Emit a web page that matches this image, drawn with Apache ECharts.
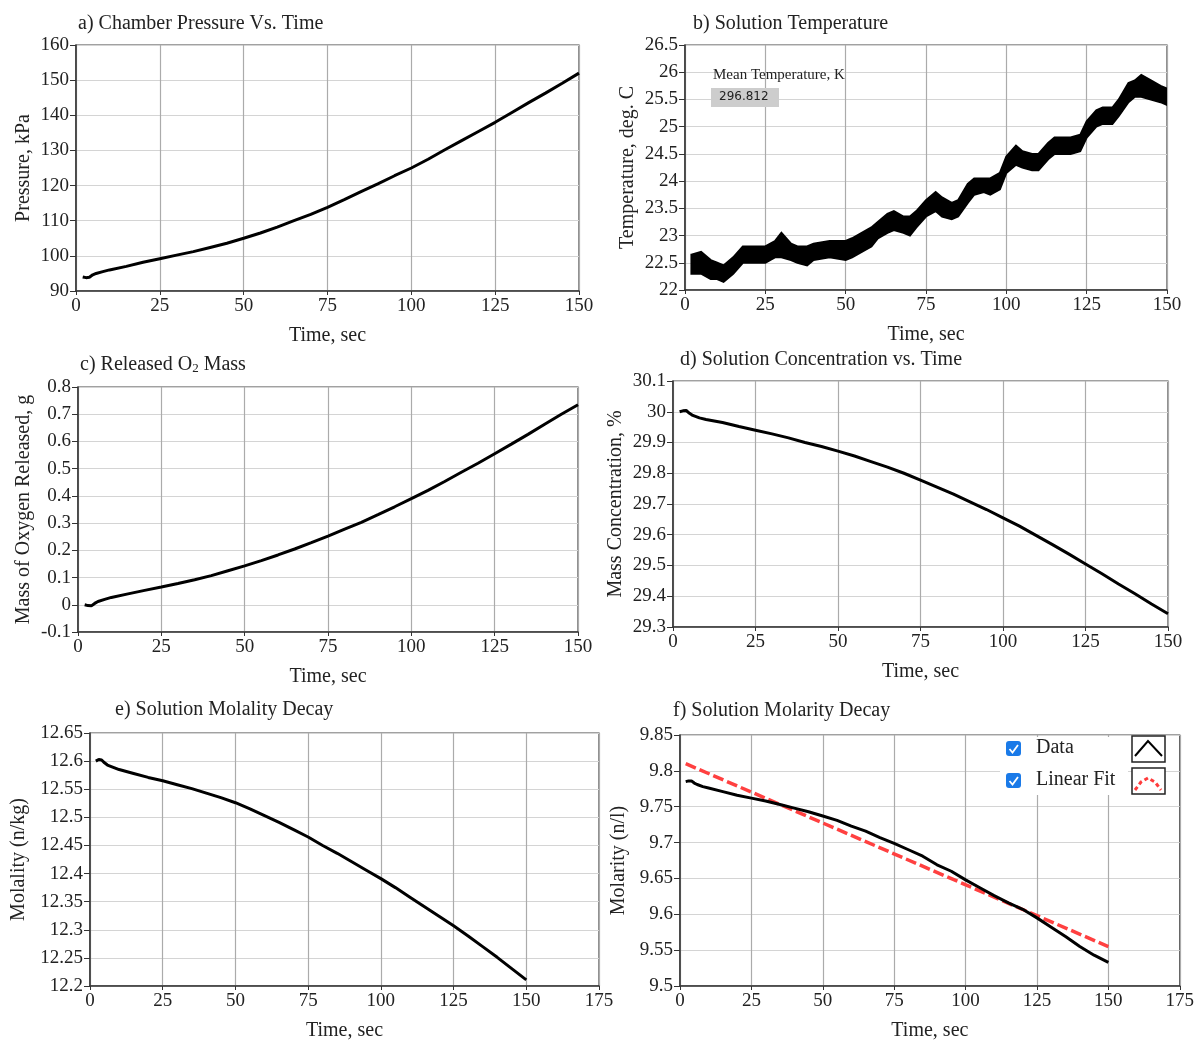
<!DOCTYPE html>
<html>
<head>
<meta charset="utf-8">
<script src="https://cdn.jsdelivr.net/npm/echarts@6/dist/echarts.min.js"></script>
<style>
  html, body { margin: 0; padding: 0; background: #fff; }
  #chart { width: 1197px; height: 1042px; }
</style>
</head>
<body>
<div id="chart"></div>
<script>
// shared time base (s) for the smooth curves
var timeSec = [2, 3, 4, 5, 6, 8, 10, 15, 20, 25, 30, 35, 40, 45, 50, 55, 60, 65, 70, 75,
  80, 85, 90, 95, 100, 105, 110, 115, 120, 125, 130, 135, 140, 145, 150];

// a) chamber pressure, kPa
var pressure = [94.0, 93.8, 93.9, 94.6, 95.0, 95.5, 96.0, 97.0, 98.2, 99.2, 100.2, 101.2, 102.4,
  103.6, 105.0, 106.5, 108.2, 110.0, 111.8, 113.8, 116.0, 118.3, 120.5, 122.8, 125.0, 127.5,
  130.2, 132.8, 135.4, 138.0, 140.8, 143.6, 146.3, 149.1, 152.0];

// b) solution temperature band (noisy signal: lower / upper envelope), deg C
var tempTime = [2, 5, 8, 10, 12, 15, 18, 20, 25, 28, 30, 33, 35, 38, 40, 45, 50, 52, 55, 58,
  60, 63, 65, 68, 70, 72, 75, 78, 80, 83, 85, 88, 90, 93, 95, 98, 100, 103, 105, 108, 110,
  113, 115, 118, 120, 123, 125, 128, 130, 133, 135, 138, 140, 142, 145, 148, 150];
var tempLow = [22.3, 22.3, 22.2, 22.2, 22.15, 22.3, 22.5, 22.5, 22.5, 22.6, 22.6, 22.55, 22.5,
  22.45, 22.55, 22.6, 22.55, 22.6, 22.7, 22.8, 22.95, 23.05, 23.1, 23.05, 23.0, 23.15, 23.35,
  23.45, 23.35, 23.3, 23.35, 23.6, 23.75, 23.8, 23.75, 23.85, 24.15, 24.3, 24.25, 24.2, 24.2,
  24.4, 24.5, 24.5, 24.5, 24.55, 24.8, 25.0, 25.05, 25.05, 25.2, 25.45, 25.55, 25.55, 25.5,
  25.45, 25.4];
var tempHigh = [22.65, 22.7, 22.55, 22.5, 22.45, 22.6, 22.8, 22.8, 22.8, 22.9, 23.05, 22.85,
  22.8, 22.8, 22.85, 22.9, 22.9, 22.95, 23.05, 23.15, 23.25, 23.4, 23.45, 23.35, 23.35, 23.45,
  23.65, 23.8, 23.7, 23.6, 23.65, 23.95, 24.05, 24.05, 24.05, 24.15, 24.45, 24.65, 24.55, 24.5,
  24.5, 24.7, 24.8, 24.8, 24.8, 24.85, 25.1, 25.3, 25.35, 25.35, 25.5, 25.8, 25.85, 25.95,
  25.85, 25.75, 25.7];
var meanTempK = '296.812';

// c) released O2 mass, g
var o2Mass = [0.0, -0.003, -0.004, 0.005, 0.012, 0.02, 0.027, 0.04, 0.053, 0.065, 0.078, 0.092,
  0.107, 0.125, 0.143, 0.162, 0.183, 0.205, 0.228, 0.252, 0.278, 0.303, 0.331, 0.36, 0.39,
  0.42, 0.453, 0.487, 0.52, 0.555, 0.59, 0.626, 0.663, 0.7, 0.735];

// d) mass concentration, %
var massConc = [30.0, 30.003, 30.004, 29.995, 29.988, 29.98, 29.975, 29.965, 29.952, 29.94,
  29.928, 29.915, 29.9, 29.887, 29.872, 29.856, 29.838, 29.82, 29.8, 29.778, 29.755, 29.732,
  29.707, 29.682, 29.655, 29.628, 29.598, 29.568, 29.537, 29.505, 29.473, 29.44, 29.408,
  29.375, 29.343];

// e) molality, n/kg
var molality = [12.6, 12.603, 12.602, 12.597, 12.593, 12.589, 12.585, 12.578, 12.571, 12.565,
  12.558, 12.551, 12.543, 12.535, 12.526, 12.515, 12.503, 12.491, 12.478, 12.465, 12.45,
  12.436, 12.421, 12.406, 12.391, 12.375, 12.358, 12.341, 12.324, 12.307, 12.289, 12.27,
  12.251, 12.231, 12.211];

// f) molarity, n/l + linear fit
var molarity = [9.785, 9.786, 9.786, 9.783, 9.781, 9.778, 9.776, 9.771, 9.766, 9.762, 9.758,
  9.753, 9.748, 9.743, 9.737, 9.731, 9.723, 9.716, 9.707, 9.699, 9.69, 9.681, 9.669, 9.66,
  9.648, 9.637, 9.626, 9.616, 9.607, 9.595, 9.582, 9.569, 9.555, 9.543, 9.533];
var fitTime = [2, 150];
var fitMolarity = [9.81, 9.555];

var SERIF = '"Liberation Serif", "Times New Roman", serif';
var INK = '#222';

function pairs(xs, ys) {
  var out = [];
  for (var i = 0; i < xs.length; i++) out.push([xs[i], ys[i]]);
  return out;
}

// panel layout: plot box in pixels, y axis range
var panels = [
  {title: 'a) Chamber Pressure Vs. Time', tx: 78, ty: 14, left: 76, top: 45, width: 503, height: 246,
    xMax: 150, yMin: 90, yMax: 160, yStep: 10, yName: 'Pressure, kPa', yGap: 42},
  {title: 'b) Solution Temperature', tx: 693, ty: 14, left: 685, top: 45, width: 482, height: 245,
    xMax: 150, yMin: 22, yMax: 26.5, yStep: 0.5, yName: 'Temperature, deg. C', yGap: 47},
  {title: 'c) Released O{sub|2} Mass', tx: 80, ty: 354, left: 78, top: 387, width: 500, height: 245,
    xMax: 150, yMin: -0.1, yMax: 0.8, yStep: 0.1, yName: 'Mass of Oxygen Released, g', yGap: 44},
  {title: 'd) Solution Concentration vs. Time', tx: 680, ty: 350, left: 673, top: 381, width: 495, height: 246,
    xMax: 150, yMin: 29.3, yMax: 30.1, yStep: 0.1, yName: 'Mass Concentration, %', yGap: 47},
  {title: 'e) Solution Molality Decay', tx: 115, ty: 700, left: 90, top: 733, width: 509, height: 253,
    xMax: 175, yMin: 12.2, yMax: 12.65, yStep: 0.05, yName: 'Molality (n/kg)', yGap: 61},
  {title: 'f) Solution Molarity Decay', tx: 673, ty: 701, left: 680, top: 735, width: 501, height: 253,
    xMax: 175, yMin: 9.5, yMax: 9.85, yStep: 0.05, yName: 'Molarity (n/l)', yGap: 51}
];

var titles = [], grids = [], xAxes = [], yAxes = [];
panels.forEach(function (p, i) {
  titles.push({
    text: p.title, left: p.tx, top: p.ty, padding: 0,
    textStyle: {fontFamily: SERIF, fontSize: 20, fontWeight: 'normal', color: INK,
      rich: {sub: {fontFamily: SERIF, fontSize: 13, color: INK, padding: [8, 0, 0, 0]}}}
  });
  grids.push({left: p.left, top: p.top, width: p.width, height: p.height, containLabel: false,
    show: true, borderColor: '#444', borderWidth: 1.2, backgroundColor: '#fff'});
  xAxes.push({
    type: 'value', gridIndex: i, min: 0, max: p.xMax, interval: 25,
    name: 'Time, sec', nameLocation: 'middle', nameGap: 35,
    nameTextStyle: {fontFamily: SERIF, fontSize: 20, color: INK},
    axisLine: {show: true, onZero: false, lineStyle: {color: '#333', width: 1.5}},
    axisTick: {show: true, length: 4, lineStyle: {color: '#333'}},
    axisLabel: {fontFamily: SERIF, fontSize: 19, color: INK, margin: 6},
    splitLine: {show: true, lineStyle: {color: '#ababab', width: 1.2}}
  });
  yAxes.push({
    type: 'value', gridIndex: i, min: p.yMin, max: p.yMax, interval: p.yStep,
    name: p.yName, nameLocation: 'middle', nameGap: p.yGap,
    nameTextStyle: {fontFamily: SERIF, fontSize: 20, color: INK},
    axisLine: {show: true, onZero: false, lineStyle: {color: '#333', width: 1.5}},
    axisTick: {show: true, length: 6, lineStyle: {color: '#333'}},
    axisLabel: {fontFamily: SERIF, fontSize: 19, color: INK, margin: 7},
    splitLine: {show: true, lineStyle: {color: '#d4d4d4', width: 1.2}}
  });
});

function curve(name, i, data, color, width, dash) {
  return {
    name: name, type: 'line', xAxisIndex: i, yAxisIndex: i, data: data,
    showSymbol: false, smooth: false, silent: true, animation: false,
    lineStyle: {color: color, width: width, type: dash || 'solid'}
  };
}

// temperature noise band: polygon upper envelope -> lower envelope, mapped through the axes
function renderTempBand(params, api) {
  if (params.dataIndex !== 0) return null;
  var pts = [], i;
  for (i = 0; i < tempTime.length; i++) pts.push(api.coord([tempTime[i], tempHigh[i]]));
  for (i = tempTime.length - 1; i >= 0; i--) pts.push(api.coord([tempTime[i], tempLow[i]]));
  return {type: 'polygon', shape: {points: pts},
    style: {fill: '#000', stroke: '#000', lineWidth: 2, lineJoin: 'miter'}};
}

var series = [
  curve('Pressure', 0, pairs(timeSec, pressure), '#000', 3),
  {name: 'Temperature', type: 'custom', xAxisIndex: 1, yAxisIndex: 1, silent: true, animation: false,
    data: pairs(tempTime, tempHigh), renderItem: renderTempBand, clip: true},
  curve('O2', 2, pairs(timeSec, o2Mass), '#000', 3),
  curve('Conc', 3, pairs(timeSec, massConc), '#000', 3),
  curve('Molality', 4, pairs(timeSec, molality), '#000', 3),
  curve('Linear Fit', 5, pairs(fitTime, fitMolarity), '#ff4040', 3.5, [11, 4]),
  curve('Data', 5, pairs(timeSec, molarity), '#000', 3)
];

// legend of panel f and the mean temperature readout are drawn as plain graphics
var graphics = [
  {type: 'text', left: 713, top: 68, z: 20, style: {text: 'Mean Temperature, K', fontFamily: SERIF, fontSize: 15, fill: INK}},
  {type: 'rect', z: 20, shape: {x: 711, y: 88, width: 68, height: 19}, style: {fill: '#cdcdcd'}},
  {type: 'text', left: 719, top: 91, z: 21, style: {text: meanTempK, fontFamily: '"DejaVu Sans", sans-serif', fontSize: 12, fill: INK}},

  {type: 'rect', shape: {x: 1000, y: 737, width: 128, height: 58}, style: {fill: '#fff'}, z: 10},
  {type: 'rect', shape: {x: 1006, y: 741, width: 15, height: 15, r: 3}, style: {fill: '#1a7ae8'}, z: 11},
  {type: 'polyline', shape: {points: [[1009.5, 749], [1012.5, 752.5], [1018, 745]]}, style: {stroke: '#fff', lineWidth: 1.8, fill: null}, z: 12},
  {type: 'text', left: 1036, top: 738, style: {text: 'Data', fontFamily: SERIF, fontSize: 20, fill: INK}, z: 11},
  {type: 'rect', shape: {x: 1006, y: 773, width: 15, height: 15, r: 3}, style: {fill: '#1a7ae8'}, z: 11},
  {type: 'polyline', shape: {points: [[1009.5, 781], [1012.5, 784.5], [1018, 777]]}, style: {stroke: '#fff', lineWidth: 1.8, fill: null}, z: 12},
  {type: 'text', left: 1036, top: 770, style: {text: 'Linear Fit', fontFamily: SERIF, fontSize: 20, fill: INK}, z: 11},

  {type: 'rect', shape: {x: 1132, y: 736, width: 33, height: 26}, style: {fill: '#fff', stroke: '#222', lineWidth: 1.5}, z: 11},
  {type: 'polyline', shape: {points: [[1135, 756], [1148, 741], [1162, 756]]}, style: {stroke: '#000', lineWidth: 2, fill: null}, z: 12},
  {type: 'rect', shape: {x: 1132, y: 768, width: 33, height: 26}, style: {fill: '#fff', stroke: '#222', lineWidth: 1.5}, z: 11},
  {type: 'polyline', shape: {points: [[1135, 790], [1141, 782], [1148, 778], [1155, 782], [1161, 790]]},
    style: {stroke: '#ff3b3b', lineWidth: 3, fill: null, lineDash: [4, 3]}, z: 12}
];

var chart = echarts.init(document.getElementById('chart'), null, {renderer: 'canvas'});
chart.setOption({
  backgroundColor: '#fff',
  animation: false,
  title: titles,
  grid: grids,
  xAxis: xAxes,
  yAxis: yAxes,
  series: series,
  graphic: graphics
});
</script>
</body>
</html>
